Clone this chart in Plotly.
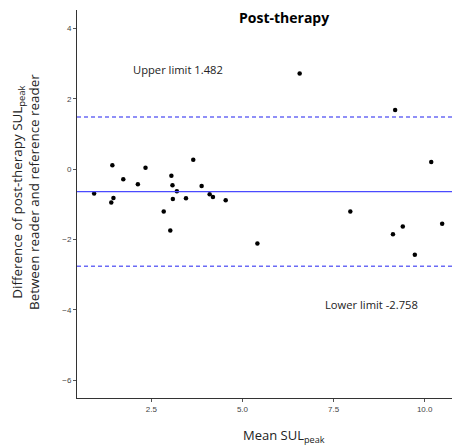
import plotly.graph_objects as go

mean_sul = [0.93, 1.43, 1.40, 1.46, 1.73, 2.13, 2.34, 2.84, 3.02, 3.05, 3.08, 3.09, 3.20, 3.45,
            3.65, 3.88, 4.10, 4.19, 4.54, 5.41, 6.57, 7.96, 9.13, 9.19, 9.40, 9.73, 10.18, 10.48]
diff = [-0.69, 0.11, -0.95, -0.82, -0.29, -0.43, 0.04, -1.20, -1.74, -0.19, -0.46, -0.85, -0.63, -0.83,
        0.27, -0.48, -0.71, -0.79, -0.88, -2.11, 2.72, -1.20, -1.85, 1.68, -1.63, -2.43, 0.20, -1.55]
upper = 1.482
lower = -2.758
mean_diff = (upper + lower) / 2
x_ticks = [2.5, 5.0, 7.5, 10.0]
y_ticks = [-6, -4, -2, 0, 2, 4]

FONT = "Open Sans"
W, H = 452, 445
L, R, T, B = 77, 0, 10, 47
xr = [0.46, 10.75]
yr = [-6.5, 4.52]

fig = go.Figure()
fig.add_trace(go.Scatter(x=mean_sul, y=diff, mode="markers",
                         marker=dict(color="black", size=4.5), showlegend=False))

fig.add_hline(y=mean_diff, line=dict(color="#4a4aff", width=1.3))
fig.add_hline(y=upper, line=dict(color="#6b6bf5", width=1.5, dash="4px,3px"))
fig.add_hline(y=lower, line=dict(color="#6b6bf5", width=1.5, dash="4px,3px"))

fig.add_annotation(x=3.24, y=2.82, text=f"Upper limit {upper}", showarrow=False,
                   font=dict(family=FONT, size=11.2, color="#222"))
fig.add_annotation(x=8.54, y=-3.84, text=f"Lower limit {lower}", showarrow=False,
                   font=dict(family=FONT, size=11.2, color="#222"))

pw = W - L - R
fig.add_annotation(xref="paper", yref="paper", x=(284 - L) / pw, y=1, yshift=-7,
                   text="<b>Post-therapy</b>", showarrow=False, yanchor="middle",
                   font=dict(family=FONT, size=14, color="black"))
fig.add_annotation(xref="paper", yref="paper", x=(284 - L) / pw, y=0, yshift=-38,
                   text="Mean SUL<sub>peak</sub>", showarrow=False, yanchor="middle",
                   font=dict(family=FONT, size=13, color="#222"))
ph = H - T - B
fig.add_annotation(xref="paper", yref="paper", x=0, xshift=-52, y=(H - B - 192) / ph,
                   text="Difference of post-therapy SUL<sub>peak</sub><br>Between reader and reference reader",
                   showarrow=False, textangle=-90, xanchor="center", yanchor="middle",
                   font=dict(family=FONT, size=13.4, color="#222"))

fig.update_xaxes(range=xr, tickvals=x_ticks, ticktext=["2.5", "5.0", "7.5", "10.0"],
                 showgrid=False, zeroline=False, showline=True, linecolor="#333", linewidth=1,
                 ticks="outside", ticklen=3, tickcolor="#555",
                 tickfont=dict(family="Liberation Sans", size=8, color="#444"))
fig.update_yaxes(range=yr, tickvals=y_ticks,
                 ticktext=["\u22126", "\u22124", "\u22122", "0", "2", "4"],
                 showgrid=False, zeroline=False, showline=True, linecolor="#333", linewidth=1,
                 ticks="outside", ticklen=3, tickcolor="#555",
                 tickfont=dict(family="Liberation Sans", size=8, color="#444"))

fig.update_layout(width=W, height=H, margin=dict(l=L, r=R, t=T, b=B),
                  plot_bgcolor="white", paper_bgcolor="white")
fig.write_html("out.html")
